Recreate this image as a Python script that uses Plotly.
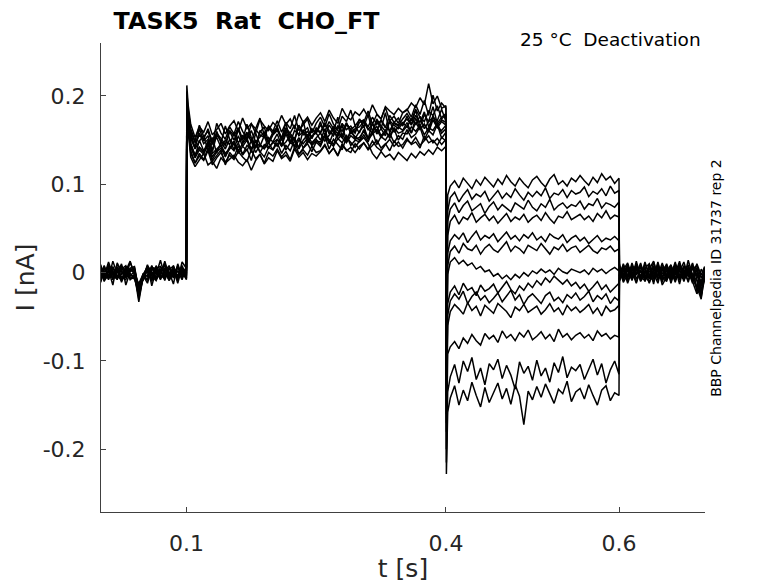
import plotly.graph_objects as go

# sample times (ms) for the four protocol segments
t_pre = [1] + list(range(5, 101, 5))
t_act = [100.5, 102] + list(range(105, 401, 5))
t_tail = [400.5, 402] + list(range(405, 601, 5))
t_post = [600.5] + list(range(605, 700, 5)) + [699]

# currents in pA, one row per sweep (13 sweeps)
pre_pA = [
    [9, -4, 12, -2, 5, -11, 2, 13, -3, -14, -6, 4, -10, 8, -2, 11, -7, 5, -12, 6, -3],
    [-11, 2, -7, 13, -1, 10, -14, 1, 6, -22, -3, -12, 5, -2, 14, -4, 1, -13, 10, -5, 2],
    [6, -10, 3, -14, 11, 1, -5, 12, -2, -18, -8, 9, -15, 3, -4, 13, -3, 2, -9, 12, 5],
    [-2, 7, -5, 1, -8, 6, 3, -4, 2, -30, -5, 7, -1, -6, 4, -9, 6, -3, 7, -2, -6],
    [1, -7, 4, 5, -3, -9, 7, -1, -6, -12, -2, -4, 8, -8, 1, 5, -4, 8, -6, 3, 1],
    [-7, 5, -2, -6, 9, 2, -6, 4, 3, -25, -7, 5, -3, 2, -7, 1, 8, -6, 2, -8, 7],
    [4, -3, 8, 2, -5, -2, 5, -8, -4, -16, -1, -9, 3, 6, -5, -2, -4, 3, -7, 8, -4],
    [-3, 8, -6, 4, 2, -7, -1, 5, 7, -20, -6, 3, -8, -3, 6, 2, -9, -1, 5, -3, 4],
    [7, -6, 1, -4, -7, 4, 8, -3, -5, -27, -4, 8, 1, -7, 3, -6, 4, 7, -4, 2, -8],
    [-6, 1, 5, -8, 3, 7, -3, 2, 1, -14, -8, -2, 6, 4, -8, 5, -2, -5, 8, -6, 3],
    [2, 5, -8, 6, -4, -1, 4, -6, -7, -23, -2, 6, -4, -9, 2, 8, -6, 1, -3, 5, -7],
    [-8, -2, 7, -3, 6, -5, -8, 3, 4, -19, -5, -7, 7, 1, -3, -7, 5, -4, 2, -1, 6],
    [5, -9, -3, 7, -6, 8, 1, -7, -2, -33, -4, 1, -6, 5, 7, -1, -8, 6, -5, 4, -2],
]

act_pA = [
    [200, 178,
     158, 141, 163, 149, 155, 138, 160, 147, 166, 151,
     145, 162, 150, 168, 153, 141, 159, 165, 148, 157,
     164, 152, 170, 147, 161, 156, 172, 150, 163, 158,
     171, 155, 167, 160, 176, 153, 169, 162, 158, 174,
     165, 179, 160, 172, 163, 181, 158, 170, 175, 166,
     177, 168, 184, 165, 179, 171, 188, 169, 176, 180],
    [195, 172,
     146, 131, 150, 138, 144, 153, 135, 148, 140, 151,
     139, 155, 143, 150, 136, 158, 145, 141, 153, 148,
     157, 144, 160, 149, 152, 141, 162, 147, 155, 158,
     150, 163, 146, 159, 154, 167, 149, 161, 152, 160,
     166, 151, 170, 157, 163, 155, 172, 159, 165, 161,
     170, 158, 175, 163, 168, 160, 178, 164, 171, 167],
    [205, 185,
     163, 149, 167, 154, 160, 145, 169, 158, 151, 165,
     157, 171, 160, 152, 168, 163, 175, 155, 166, 160,
     172, 159, 170, 163, 178, 161, 167, 174, 158, 169,
     176, 165, 180, 168, 162, 177, 171, 184, 166, 173,
     170, 183, 168, 179, 174, 187, 172, 177, 169, 181,
     185, 176, 190, 179, 195, 178, 201, 183, 192, 186],
    [190, 168,
     138, 124, 135, 128, 141, 126, 133, 139, 122, 136,
     130, 144, 133, 140, 127, 145, 137, 131, 142, 139,
     147, 135, 144, 138, 150, 134, 141, 146, 137, 148,
     143, 155, 140, 151, 145, 139, 153, 147, 142, 149,
     156, 148, 160, 145, 154, 150, 158, 147, 155, 151,
     162, 153, 157, 165, 150, 161, 156, 168, 152, 159],
    [198, 176,
     155, 142, 158, 146, 151, 137, 156, 149, 144, 160,
     150, 163, 147, 157, 152, 141, 161, 154, 148, 159,
     165, 151, 162, 155, 149, 167, 156, 160, 152, 164,
     159, 170, 157, 165, 161, 153, 168, 162, 166, 158,
     171, 163, 158, 174, 166, 160, 172, 167, 163, 169,
     174, 167, 178, 170, 182, 165, 176, 172, 185, 171],
    [212, 190,
     168, 153, 165, 159, 171, 156, 162, 169, 157, 166,
     172, 160, 175, 163, 169, 158, 173, 166, 161, 170,
     165, 178, 168, 174, 163, 180, 170, 176, 167, 175,
     181, 171, 184, 175, 169, 186, 177, 173, 182, 178,
     185, 176, 190, 180, 174, 188, 183, 179, 186, 181,
     184, 192, 187, 198, 190, 214, 191, 200, 186, 189],
    [192, 170,
     145, 133, 142, 136, 147, 131, 139, 144, 135, 141,
     149, 138, 146, 152, 140, 148, 143, 155, 141, 147,
     151, 144, 157, 146, 153, 140, 150, 156, 147, 152,
     158, 149, 155, 162, 151, 157, 148, 160, 154, 150,
     162, 153, 159, 166, 155, 161, 152, 164, 158, 160,
     166, 158, 170, 162, 168, 159, 173, 164, 161, 167],
    [197, 175,
     152, 140, 149, 155, 138, 147, 153, 142, 150, 145,
     158, 147, 155, 150, 161, 148, 153, 159, 146, 156,
     161, 152, 164, 157, 151, 166, 159, 154, 162, 158,
     167, 160, 171, 163, 157, 169, 162, 166, 159, 170,
     173, 165, 176, 168, 172, 164, 178, 170, 167, 174,
     180, 172, 185, 176, 171, 183, 178, 189, 174, 179],
    [185, 160,
     131, 120, 128, 135, 122, 126, 118, 130, 124, 129,
     133, 125, 121, 128, 116, 127, 134, 123, 130, 126,
     138, 129, 133, 126, 140, 131, 136, 128, 135, 132,
     137, 144, 135, 141, 133, 146, 138, 142, 136, 143,
     147, 140, 149, 142, 138, 145, 151, 143, 148, 141,
     150, 146, 153, 144, 149, 155, 147, 152, 145, 151],
    [200, 178,
     160, 147, 156, 151, 163, 148, 158, 152, 145, 161,
     155, 164, 151, 159, 148, 162, 156, 153, 165, 157,
     163, 150, 161, 158, 167, 155, 160, 164, 152, 162,
     158, 168, 161, 155, 166, 160, 170, 157, 163, 165,
     171, 162, 168, 159, 173, 165, 161, 169, 166, 170,
     165, 174, 168, 177, 163, 171, 176, 167, 173, 170],
    [190, 168,
     142, 130, 139, 134, 145, 128, 137, 141, 132, 140,
     146, 135, 143, 138, 149, 136, 144, 140, 147, 139,
     151, 143, 148, 155, 141, 150, 146, 152, 144, 149,
     148, 156, 150, 145, 158, 152, 147, 155, 151, 153,
     160, 151, 157, 162, 153, 159, 155, 163, 150, 158,
     157, 165, 160, 167, 156, 164, 161, 169, 158, 163],
    [195, 172,
     146, 133, 142, 137, 149, 135, 140, 145, 131, 143,
     138, 147, 134, 144, 140, 150, 136, 145, 141, 148,
     143, 152, 139, 147, 144, 153, 141, 149, 146, 151,
     145, 155, 148, 143, 152, 147, 156, 144, 150, 148,
     153, 146, 135, 129, 137, 131, 134, 128, 136, 132,
     127, 135, 130, 137, 133, 139, 134, 142, 138, 143],
    [188, 165,
     135, 124, 132, 127, 138, 122, 130, 136, 125, 133,
     128, 137, 131, 126, 139, 129, 134, 124, 136, 132,
     140, 131, 137, 128, 142, 134, 139, 133, 143, 136,
     138, 145, 135, 141, 132, 144, 139, 136, 146, 140,
     147, 139, 144, 150, 141, 146, 138, 149, 143, 145,
     152, 145, 148, 141, 155, 147, 150, 144, 153, 149],
]

tail_pA = [
    [-40, 88,
     98, 104, 96, 107, 101, 95, 105, 99, 108, 102,
     97, 106, 100, 110, 103, 98, 107, 101, 96, 105,
     109, 102, 97, 106, 111, 100, 104, 98, 107, 103,
     110, 104, 99, 108, 102, 112, 105, 109, 101, 107],
    [-60, 70,
     85, 91, 80, 88, 94, 83, 89, 86, 92, 81,
     87, 93, 84, 90, 85, 95, 88, 82, 91, 86,
     92, 87, 96, 84, 90, 88, 94, 85, 93, 89,
     91, 97, 86, 92, 89, 95, 87, 98, 90, 93],
    [-75, 58,
     72, 79, 68, 76, 81, 70, 74, 78, 67, 75,
     80, 71, 77, 73, 69, 79, 75, 72, 82, 74,
     70, 78, 74, 83, 71, 76, 79, 73, 77, 75,
     81, 72, 78, 76, 84, 73, 79, 77, 74, 80],
    [-90, 42,
     58, 65, 55, 63, 60, 68, 57, 62, 66, 59,
     64, 56, 61, 67, 58, 63, 60, 66, 57, 62,
     65, 59, 68, 61, 56, 64, 62, 69, 60, 63,
     66, 60, 64, 58, 67, 62, 70, 61, 65, 63],
    [-110, 22,
     36, 43, 38, 45, 34, 41, 47, 37, 42, 39,
     44, 35, 40, 46, 38, 42, 36, 43, 39, 45,
     37, 41, 35, 44, 40, 38, 43, 34, 39, 42,
     36, 40, 33, 38, 42, 35, 39, 37, 41, 36],
    [-125, 8,
     24, 30, 22, 33, 27, 25, 31, 21, 28, 32,
     26, 23, 29, 35, 24, 30, 27, 22, 31, 28,
     25, 33, 27, 21, 29, 26, 32, 24, 28, 30,
     23, 27, 31, 25, 22, 28, 26, 30, 24, 27],
    [-140, -2,
     12, 17, 10, 14, 8, 11, 4, 7, 1, 3,
     -4, -1, -7, -3, -8, -2, -6, 0, -4, 2,
     -1, 4, 0, 3, -2, 5, 1, -1, 4, 2,
     0, 3, -2, 5, 1, 4, -1, 3, 6, 2],
    [-160, -35,
     -22, -15, -25, -12, -20, -17, -26, -14, -21, -18,
     -13, -23, -16, -10, -19, -24, -15, -20, -12, -17,
     -9, -14, -6, -11, -4, -9, -13, -8, -15, -11,
     -18, -13, -21, -16, -10, -19, -14, -22, -17, -12],
    [-170, -48,
     -32, -24, -30, -21, -35, -27, -22, -31, -26, -34,
     -29, -23, -33, -27, -20, -31, -25, -36, -28, -24,
     -30, -35, -26, -22, -32, -28, -34, -25, -29, -23,
     -31, -27, -21, -33, -26, -30, -24, -35, -28, -32],
    [-180, -60,
     -44, -36, -41, -47, -34, -43, -38, -49, -37, -42,
     -46, -35, -40, -44, -51, -39, -43, -36, -45, -41,
     -38, -47, -42, -35, -44, -40, -48, -37, -43, -39,
     -45, -41, -36, -46, -40, -49, -38, -44, -42, -37],
    [-200, -92,
     -84, -78, -86, -74, -80, -70, -77, -82, -69, -75,
     -71, -79, -66, -74, -70, -77, -68, -73, -65, -76,
     -72, -67, -75, -70, -78, -64, -73, -69, -76, -71,
     -68, -74, -70, -77, -66, -72, -69, -75, -71, -73],
    [-215, -135,
     -118, -104, -125, -100, -112, -96, -121, -108, -127, -103,
     -110, -98, -120, -105, -116, -132, -101, -114, -106, -122,
     -99, -117, -108, -124, -102, -113, -95, -119, -107, -111,
     -104, -121, -109, -98, -116, -103, -125, -110, -100, -115],
    [-228, -158,
     -142, -128, -150, -133, -145, -124, -139, -152, -130, -147,
     -136, -125, -143, -131, -149, -127, -140, -172, -134, -144,
     -129, -141, -126, -138, -148, -132, -137, -123, -146, -135,
     -131, -143, -127, -139, -150, -133, -128, -145, -136, -139],
]

post_pA = [
    [5, -6, 8, -3, 10, -9, 2, -5, 12, -4, 6, -8, 3, -11, 7, -2, 9, -6, -18, 4, -3],
    [-4, 7, -10, 4, -2, 11, -7, 5, -1, -12, 9, 2, -6, 8, -9, 3, -4, 10, -7, -25, 1],
    [8, -3, 2, -8, 13, -5, 6, -12, 4, 1, -7, 10, -4, 5, -13, 7, -1, -8, 5, -12, 6],
    [-7, 10, -4, 6, -11, 3, -8, 9, -2, 7, -14, -5, 8, -3, 11, -6, 2, -10, -24, -15, -4],
    [2, -9, 5, -1, 7, -6, 12, -3, -10, 5, 3, -2, 6, -9, 1, 12, -5, 4, 8, -6, 2],
    [-9, 4, -7, 11, -3, 8, -10, 1, 6, -8, 2, 9, -12, 3, -4, -7, 14, -3, -9, -28, -6],
    [6, -2, 9, -6, 3, -4, 5, 10, -7, -3, 11, -6, 1, -9, 6, 4, -11, 7, -2, -14, 5],
    [-3, 6, -12, 2, 8, -5, -9, 4, 13, -6, -1, 7, -8, 10, -2, -5, 3, -12, 6, -20, -8],
    [10, -8, 3, -6, -1, 9, -3, -11, 2, 8, -4, -10, 4, -6, 9, -3, 6, -2, -16, -30, 3],
    [-6, 1, 7, -9, 5, -8, 10, -2, -6, 3, -11, 5, -3, 12, -7, 1, -9, 8, -4, -10, -2],
    [4, -11, -2, 8, -7, 2, -5, 7, -13, 10, -4, 1, 9, -7, 4, -10, 5, -6, 10, -3, 7],
    [-2, 9, -5, 1, -12, 6, 3, -7, 8, -9, 5, -3, -8, 2, -5, 8, -3, 11, -22, -11, -5],
    [-10, 3, 11, -4, 6, -10, -2, 7, -5, 12, -8, -3, 6, -1, 13, -8, 0, -5, 3, -26, 4],
]

x_ticks = [0.1, 0.4, 0.6]
x_labels = ["0.1", "0.4", "0.6"]
y_ticks = [-0.2, -0.1, 0, 0.1, 0.2]
y_labels = ["-0.2", "-0.1", "0", "0.1", "0.2"]

t_all = [t / 1000 for t in t_pre + t_act + t_tail + t_post]

fig = go.Figure()
for i in range(len(pre_pA)):
    sweep = pre_pA[i] + act_pA[i] + tail_pA[i] + post_pA[i]
    fig.add_trace(go.Scatter(x=t_all, y=[v / 1000 for v in sweep], mode="lines",
                             line=dict(color="black", width=1.5), hoverinfo="skip"))

# the page body adds an 8px offset, so the margins are trimmed by 8px
axcol = "#404040"
fig.update_layout(
    template="none",
    width=778, height=583,
    margin=dict(l=93, r=81, t=35, b=79),
    paper_bgcolor="white", plot_bgcolor="white",
    showlegend=False,
    font=dict(family="DejaVu Sans", color="#262626"),
    title=dict(text="TASK5\u00a0 Rat\u00a0 CHO_FT", x=238.5 / 778, xanchor="center",
               y=1 - 4 / 583, yanchor="top",
               font=dict(family="DejaVu Sans", size=23.8, color="black", weight="bold")),
)
fig.update_xaxes(range=[0.0013, 0.6994], tickvals=x_ticks, ticktext=x_labels,
                 ticks="inside", ticklen=5, tickcolor=axcol, tickwidth=1,
                 showline=True, linecolor=axcol, linewidth=1, showgrid=False, zeroline=False,
                 tickfont=dict(size=22, color="#262626"), ticklabelstandoff=12,
                 title=dict(text="t [s]", font=dict(size=25, color="#262626"), standoff=4))
fig.update_yaxes(range=[-0.271, 0.26], tickvals=y_ticks, ticktext=y_labels,
                 ticks="inside", ticklen=5, tickcolor=axcol, tickwidth=1,
                 showline=True, linecolor=axcol, linewidth=1, showgrid=False, zeroline=False,
                 tickfont=dict(size=22, color="#262626"), ticklabelstandoff=10,
                 title=dict(text="I [nA]", font=dict(size=25, color="#262626"), standoff=0))

fig.add_annotation(text="25 °C\u00a0 Deactivation", xref="paper", yref="paper",
                   x=0.997, y=1.007, xanchor="right", yanchor="middle", showarrow=False,
                   font=dict(family="DejaVu Sans", size=18.5, color="black"))
fig.add_annotation(text="BBP Channelpedia ID 31737 rep 2", xref="paper", yref="paper",
                   x=1.018, y=0.499, xanchor="center", yanchor="middle", showarrow=False,
                   textangle=-90, font=dict(family="DejaVu Sans", size=14, color="black"))

fig.write_html("out.html")
